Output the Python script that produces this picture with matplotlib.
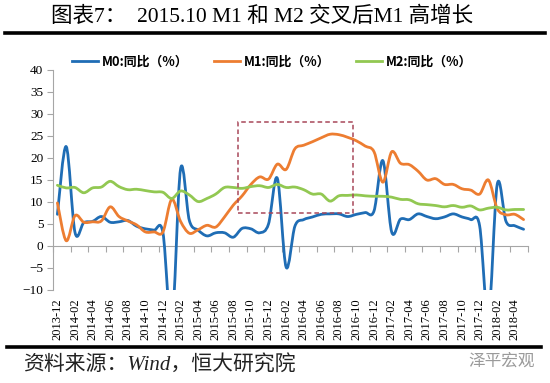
import numpy as np
import matplotlib
matplotlib.use("Agg")
import matplotlib.pyplot as plt
from matplotlib.path import Path
from matplotlib.patches import PathPatch, Rectangle
from matplotlib.lines import Line2D

plt.rcParams['font.family'] = ['Liberation Serif', 'Noto Sans CJK SC', 'DejaVu Sans']

# ---------------- data ----------------
months = []
for y in range(2013, 2019):
    for m in range(1, 13):
        if (y == 2013 and m < 12) or (y == 2018 and m > 5):
            continue
        months.append(f"{y}-{m:02d}")

m0 = [7.2, 22.6, 3.1, 5.3, 5.6, 6.7, 5.4, 5.5, 5.8, 4.5, 3.9, 3.6, 3.0,
      -18.0, 17.5, 5.8, 3.6, 2.3, 3.0, 3.0, 2.0, 4.0, 3.9, 3.0, 5.0,
      15.4, -4.8, 4.5, 6.0, 6.6, 7.2, 7.3, 7.3, 6.7, 7.2, 7.6, 8.0,
      19.4, 3.2, 6.1, 6.0, 7.3, 6.7, 6.2, 6.6, 7.3, 6.6, 6.0, 4.6,
      -16.1, 14.0, 5.6, 4.6, 3.8]
m1 = [9.8, 1.2, 6.9, 5.4, 5.5, 5.7, 8.9, 6.7, 5.7, 4.8, 3.2, 3.2, 3.2,
      10.6, 5.6, 2.9, 3.7, 4.7, 4.3, 6.6, 9.3, 11.4, 14.0, 15.7, 15.2,
      18.6, 17.4, 22.1, 22.9, 23.7, 24.6, 25.4, 25.3, 24.7, 23.9, 22.7, 21.4,
      14.5, 21.4, 18.8, 18.5, 17.0, 15.0, 15.3, 14.0, 14.0, 13.0, 12.7, 11.8,
      15.0, 8.5, 7.1, 7.2, 6.0]
m2 = [13.8, 13.2, 13.3, 12.1, 13.2, 13.4, 14.7, 13.5, 12.8, 12.9, 12.6, 12.3, 12.2,
      10.8, 12.5, 11.6, 10.1, 10.8, 11.8, 13.3, 13.3, 13.1, 13.5, 13.7, 13.3,
      14.0, 13.3, 13.4, 12.8, 11.8, 11.8, 10.2, 11.4, 11.5, 11.6, 11.4, 11.3,
      11.3, 11.1, 10.6, 10.5, 9.6, 9.4, 9.2, 8.9, 9.2, 8.8, 9.1, 8.2,
      8.6, 8.8, 8.2, 8.3, 8.3]
series_names = ["M0:同比（%）", "M1:同比（%）", "M2:同比（%）"]
series_colors = ["#1F6DB5", "#ED7D31", "#92C852"]

# ---------------- figure ----------------
fig = plt.figure(figsize=(5.5, 3.83), dpi=100)
ax = fig.add_axes([53/550, 1-290/383, (528-53)/550, (290-70)/383])

x = np.arange(len(months))


def smooth_path(xs, ys, t=1/6):
    pts = np.column_stack([xs, ys]).astype(float)
    n = len(pts)
    verts = [pts[0]]
    codes = [Path.MOVETO]
    for i in range(n - 1):
        p0 = pts[max(i - 1, 0)]
        p1 = pts[i]
        p2 = pts[i + 1]
        p3 = pts[min(i + 2, n - 1)]
        c1 = p1 + (p2 - p0) * t
        c2 = p2 - (p3 - p1) * t
        verts += [c1, c2, p2]
        codes += [Path.CURVE4] * 3
    return Path(np.array(verts), codes)


for vals, col in zip([m0, m1, m2], series_colors):
    patch = PathPatch(smooth_path(x, vals), facecolor='none', edgecolor=col,
                      lw=2.0, capstyle='round', joinstyle='round')
    ax.add_patch(patch)

ax.set_xlim(-0.5, len(months) - 0.5)
ax.set_ylim(-10, 40)
ax.set_yticks(np.arange(-10, 41, 5))
ax.set_xticks(x[::2])
ax.set_xticklabels(months[::2], rotation=90, fontsize=9, family='Liberation Serif')
ax.tick_params(axis='x', length=0, pad=6)
ax.tick_params(axis='y', direction='out', length=4, color='#A6A6A6', pad=3,
               labelsize=9.5)
for s in ['top', 'right', 'bottom']:
    ax.spines[s].set_visible(False)
ax.spines['left'].set_color('#A6A6A6')

# zero axis line with tick marks
sec = ax.secondary_xaxis(0.2)
sec.set_xticks(np.arange(-0.5, len(months), 2))
sec.tick_params(axis='x', direction='out', length=4, color='#A6A6A6', labelbottom=False)
sec.spines['bottom'].set_color('#A6A6A6')

# highlight box
ax.add_patch(Rectangle((20.5, 7.4), 13.1, 20.8, fill=False, edgecolor='#A8485A',
                       lw=1.1, linestyle=(0, (3, 2))))

# legend
handles = [Line2D([], [], color=c, lw=2) for c in series_colors]
fig.legend(handles, series_names, loc='center', bbox_to_anchor=(0.495, 1-62/383),
           ncol=3, frameon=False, handlelength=2.0, handletextpad=0.3,
           columnspacing=2.0, prop={'family': ['Noto Sans CJK SC'], 'weight': 'bold', 'size': 9.3})

# title and decorations
fig.text(262/550, 1-17/383, "图表7：  2015.10 M1 和 M2 交叉后M1 高增长",
         ha='center', va='center', fontsize=15.5,
         family=['Liberation Serif', 'Noto Sans CJK SC'])
fig.add_artist(Line2D([5/550, 545/550], [1-33/383, 1-33/383], color='black', lw=2.6))
fig.add_artist(Line2D([7/550, 541/550], [1-347/383, 1-347/383], color='black', lw=2.6))
fig.text(23/550, 1-366/383, "资料来源：Wind，恒大研究院", ha='left', va='center',
         fontsize=15, style='italic', color='#222222',
         family=['Liberation Serif', 'Noto Sans CJK SC'])
fig.text(535/550, 1-361/383, "泽平宏观", ha='right', va='center', fontsize=12,
         color='#9A9A9A', family=['Noto Sans CJK SC'])

fig.savefig("out.png", dpi=100)
